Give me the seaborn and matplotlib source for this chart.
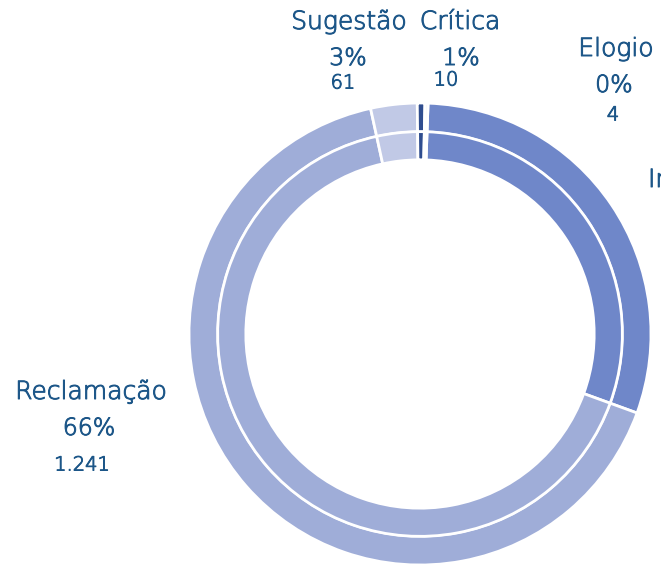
import matplotlib
matplotlib.use("Agg")
import matplotlib.pyplot as plt
import matplotlib.patheffects as pe
import seaborn as sns

categories = ["Informação", "Reclamação", "Sugestão", "Crítica", "Elogio"]
counts = [564, 1241, 61, 10, 4]
percent_labels = ["30%", "66%", "3%", "1%", "0%"]
count_labels = ["564", "1.241", "61", "10", "4"]
hex_colors = ["#6f87c9", "#9fadd8", "#c1c9e6", "#2f4d8f", "#e4e8f4"]

sns.set_theme(style="white")
plt.rcParams["font.family"] = ["DejaVu Sans"]
colors = sns.color_palette(hex_colors)

W, H = 661, 565
fig = plt.figure(figsize=(W / 100, H / 100), dpi=100)
ax = fig.add_axes([0, 0, 1, 1])

cx, cy, r_out = 420, 334, 231
wp = dict(edgecolor="white", linewidth=2.0)
ax.pie(counts, colors=colors, startangle=88, counterclock=False,
       radius=1.0, wedgeprops=dict(width=0.125, **wp))
ax.pie(counts, colors=colors, startangle=88, counterclock=False,
       radius=0.876, wedgeprops=dict(width=0.122, **wp))
ax.set_xlim(-cx / r_out, (W - cx) / r_out)
ax.set_ylim(-(H - cy) / r_out, cy / r_out)
ax.set_axis_off()

txt_color = "#1c5688"

def put(x, y, s, size, ha="center"):
    fig.text(x / W, 1 - y / H, s, ha=ha, va="center", fontsize=size,
             color=txt_color, fontweight="light",
             path_effects=[pe.withStroke(linewidth=0.7, foreground=txt_color)])

# label layout (pixel positions of name, percent, count)
layout = {
    "Sugestão": [(349, 22), (348, 58), (343, 83)],
    "Crítica": [(460, 22), (461, 58), (446, 80)],
    "Elogio": [(616, 49), (614, 85), (613, 115)],
    "Reclamação": [(91, 392), (89, 428), (82, 465)],
}
for name, pct, cnt in zip(categories, percent_labels, count_labels):
    if name in layout:
        (nx, ny), (px, py), (qx, qy) = layout[name]
        put(nx, ny, name, 18)
        put(px, py, pct, 17)
        put(qx, qy, cnt, 14)
    else:
        # only the start of this label is visible at the right edge
        put(648, 180, name, 18, ha="left")

fig.savefig("out.png", dpi=100)
